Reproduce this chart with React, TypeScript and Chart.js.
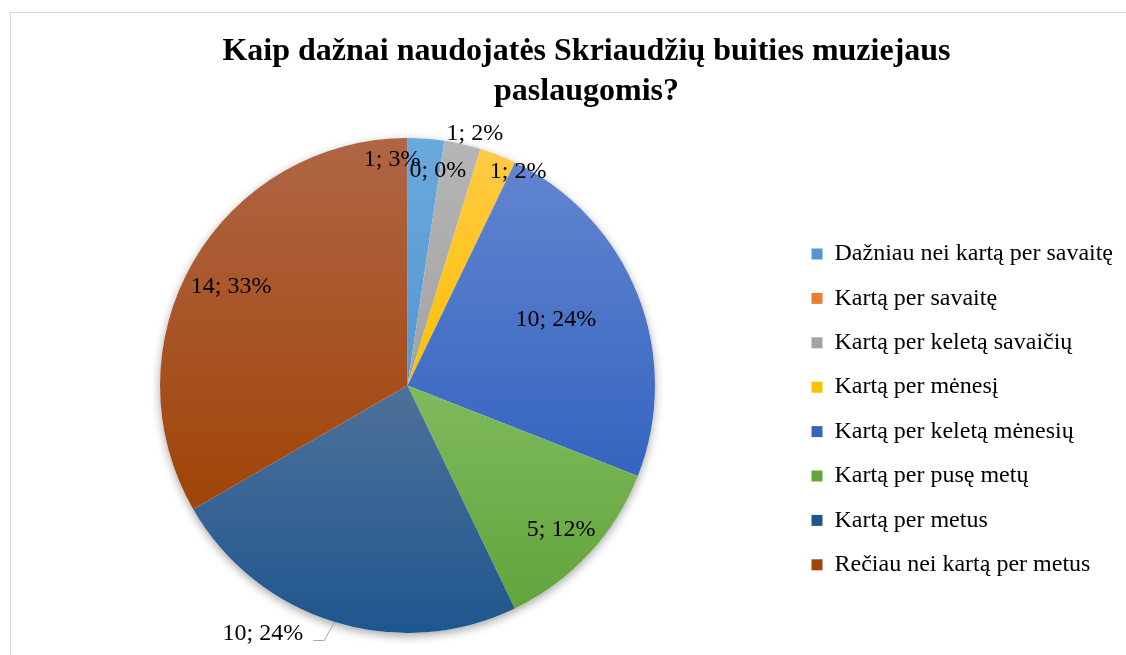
import React, { useEffect, useRef } from "react";
import { Chart, registerables } from "chart.js";

Chart.register(...registerables);

const TITLE_LINES = ["Kaip dažnai naudojatės Skriaudžių buities muziejaus", "paslaugomis?"];
const CATEGORIES = [
  "Dažniau nei kartą per savaitę",
  "Kartą per savaitę",
  "Kartą per keletą savaičių",
  "Kartą per mėnesį",
  "Kartą per keletą mėnesių",
  "Kartą per pusę metų",
  "Kartą per metus",
  "Rečiau nei kartą per metus",
];
const VALUES = [1, 0, 1, 1, 10, 5, 10, 14];
const PERCENT_LABELS = ["3%", "0%", "2%", "2%", "24%", "12%", "24%", "33%"];

const TOP_COLORS = ["#6aa9de", "#ec8a45", "#b5b5b5", "#ffca45", "#6285cf", "#7fba5e", "#4d7199", "#b06545"];
const BASE_COLORS = ["#5596d2", "#ed7d31", "#a3a3a3", "#ffc000", "#3464c0", "#62a43a", "#1f568f", "#a04407"];

// label placement: fraction of radius and angular offset (deg) from slice middle
const LABEL_PLACEMENT = [
  { r: 0.913, da: -8.2 },
  { r: 0.876, da: -0.5 },
  { r: 1.055, da: 2.1 },
  { r: 0.974, da: 5.9 },
  { r: 0.655, da: -2.4 },
  { r: 0.852, da: 0.4 },
  { r: 1.16, da: 13.1 },
  { r: 0.816, da: -0.8 },
];
const LEADER = [false, false, false, false, false, false, true, false];

const FONT = '"Liberation Serif", "Times New Roman", serif';
const W = 1115;
const H = 642;

export default function App() {
  const ref = useRef<HTMLCanvasElement>(null);

  useEffect(() => {
    const canvas = ref.current;
    if (!canvas) return;

    const legFont = 24;
    const boxW = 11;
    const legPad = 20.4;
    const mctx = document.createElement("canvas").getContext("2d")!;
    mctx.font = `${legFont}px ${FONT}`;
    const maxText = Math.max(...CATEGORIES.map((c) => mctx.measureText(c).width));
    const legendWidth = legPad + boxW + legFont / 2 + maxText + 10;
    const legendLeft = 800.5 - legPad; // canvas coords
    const padRight = W - legendLeft - legendWidth;
    const pieCenterX = 396.5;
    const padLeft = 2 * pieCenterX - legendLeft;

    const titlePlugin = {
      id: "manualTitle",
      afterDraw(chart: any) {
        const ctx = chart.ctx;
        ctx.save();
        ctx.font = `bold 32px ${FONT}`;
        ctx.fillStyle = "#000";
        ctx.textAlign = "center";
        ctx.textBaseline = "alphabetic";
        TITLE_LINES.forEach((l, i) => ctx.fillText(l, 575.5, 47 + i * 40));
        ctx.restore();
      },
    };

    const shadowPlugin = {
      id: "pieShadow",
      beforeDatasetsDraw(chart: any) {
        const el: any = chart.getDatasetMeta(0).data[0];
        if (!el || !el.outerRadius) return;
        const ctx = chart.ctx;
        ctx.save();
        ctx.shadowColor = "rgba(0,0,0,0.35)";
        ctx.shadowBlur = 10;
        ctx.shadowOffsetY = 3;
        ctx.fillStyle = "#ffffff";
        ctx.beginPath();
        ctx.arc(el.x, el.y, el.outerRadius, 0, Math.PI * 2);
        ctx.fill();
        ctx.restore();
      },
    };

    const labelPlugin = {
      id: "dataLabels",
      afterDatasetsDraw(chart: any) {
        const ctx = chart.ctx;
        const meta = chart.getDatasetMeta(0);
        ctx.save();
        ctx.font = `24px ${FONT}`;
        ctx.fillStyle = "#000";
        ctx.textAlign = "center";
        ctx.textBaseline = "middle";
        meta.data.forEach((el: any, i: number) => {
          const mid = (el.startAngle + el.endAngle) / 2;
          const pl = LABEL_PLACEMENT[i];
          const th = mid + (pl.da * Math.PI) / 180;
          const R = el.outerRadius;
          const lx = el.x + pl.r * R * Math.cos(th);
          const ly = el.y + pl.r * R * Math.sin(th);
          const text = `${VALUES[i]}; ${PERCENT_LABELS[i]}`;
          if (LEADER[i]) {
            const tw = ctx.measureText(text).width;
            const ex = el.x + R * Math.cos(mid);
            const ey = el.y + R * Math.sin(mid);
            const right = lx + tw / 2;
            ctx.save();
            ctx.strokeStyle = "#a6a6a6";
            ctx.lineWidth = 1;
            ctx.beginPath();
            ctx.moveTo(ex, ey);
            ctx.lineTo(right + 21, ly + 7);
            ctx.lineTo(right + 10, ly + 7);
            ctx.stroke();
            ctx.restore();
          }
          ctx.fillText(text, lx, ly);
        });
        ctx.restore();
      },
    };

    const gradientColor = (c: any) => {
      const i = c.dataIndex;
      const el: any = c.chart.getDatasetMeta(0).data[i];
      if (!el || !el.outerRadius) return BASE_COLORS[i];
      const { x, y, startAngle, endAngle, outerRadius: R } = el;
      const ys = [y, y + R * Math.sin(startAngle), y + R * Math.sin(endAngle)];
      const inRange = (a: number) => {
        for (let k = -1; k <= 1; k++) {
          const b = a + 2 * Math.PI * k;
          if (b >= startAngle - 1e-9 && b <= endAngle + 1e-9) return true;
        }
        return false;
      };
      if (inRange(-Math.PI / 2)) ys.push(y - R);
      if (inRange(Math.PI / 2)) ys.push(y + R);
      const y0 = Math.min(...ys);
      let y1 = Math.max(...ys);
      if (y1 - y0 < 1) y1 = y0 + 1;
      const g = c.chart.ctx.createLinearGradient(0, y0, 0, y1);
      g.addColorStop(0, TOP_COLORS[i]);
      g.addColorStop(1, BASE_COLORS[i]);
      return g;
    };

    Chart.defaults.font.family = FONT;

    const chart = new Chart(canvas, {
      type: "pie",
      data: {
        labels: CATEGORIES,
        datasets: [
          {
            data: VALUES,
            backgroundColor: gradientColor as any,
            borderWidth: 0,
            hoverOffset: 0,
          },
        ],
      },
      options: {
        responsive: false,
        maintainAspectRatio: false,
        animation: false,
        events: [],
        layout: {
          padding: { top: 125, bottom: 22, left: padLeft, right: padRight },
        },
        plugins: {
          title: { display: false },
          tooltip: { enabled: false },
          legend: {
            display: true,
            position: "right",
            align: "center",
            title: {
              display: true,
              text: "",
              padding: 0,
              font: { size: 12, lineHeight: "47.8px" as any },
            },
            labels: {
              boxWidth: boxW,
              boxHeight: boxW,
              padding: legPad,
              color: "#000",
              font: { size: legFont, family: FONT },
              generateLabels: () =>
                CATEGORIES.map((t, i) => ({
                  text: t,
                  fillStyle: BASE_COLORS[i],
                  strokeStyle: BASE_COLORS[i],
                  lineWidth: 0,
                  hidden: false,
                  index: i,
                  fontColor: "#000",
                })) as any,
            },
          },
        },
      },
      plugins: [shadowPlugin, labelPlugin, titlePlugin],
    });
    chart.update();

    return () => chart.destroy();
  }, []);

  return (
    <div
      style={{
        position: "fixed",
        left: 0,
        top: 0,
        width: 1126,
        height: 655,
        overflow: "hidden",
        background: "#fff",
      }}
    >
      <div
        style={{
          position: "absolute",
          left: 10,
          top: 12,
          width: 1200,
          height: 700,
          border: "1px solid #d9d9d9",
          background: "#fff",
        }}
      >
        <canvas
          ref={ref}
          width={W}
          height={H}
          style={{ position: "absolute", left: 0, top: 0, width: W, height: H }}
        />
      </div>
    </div>
  );
}
